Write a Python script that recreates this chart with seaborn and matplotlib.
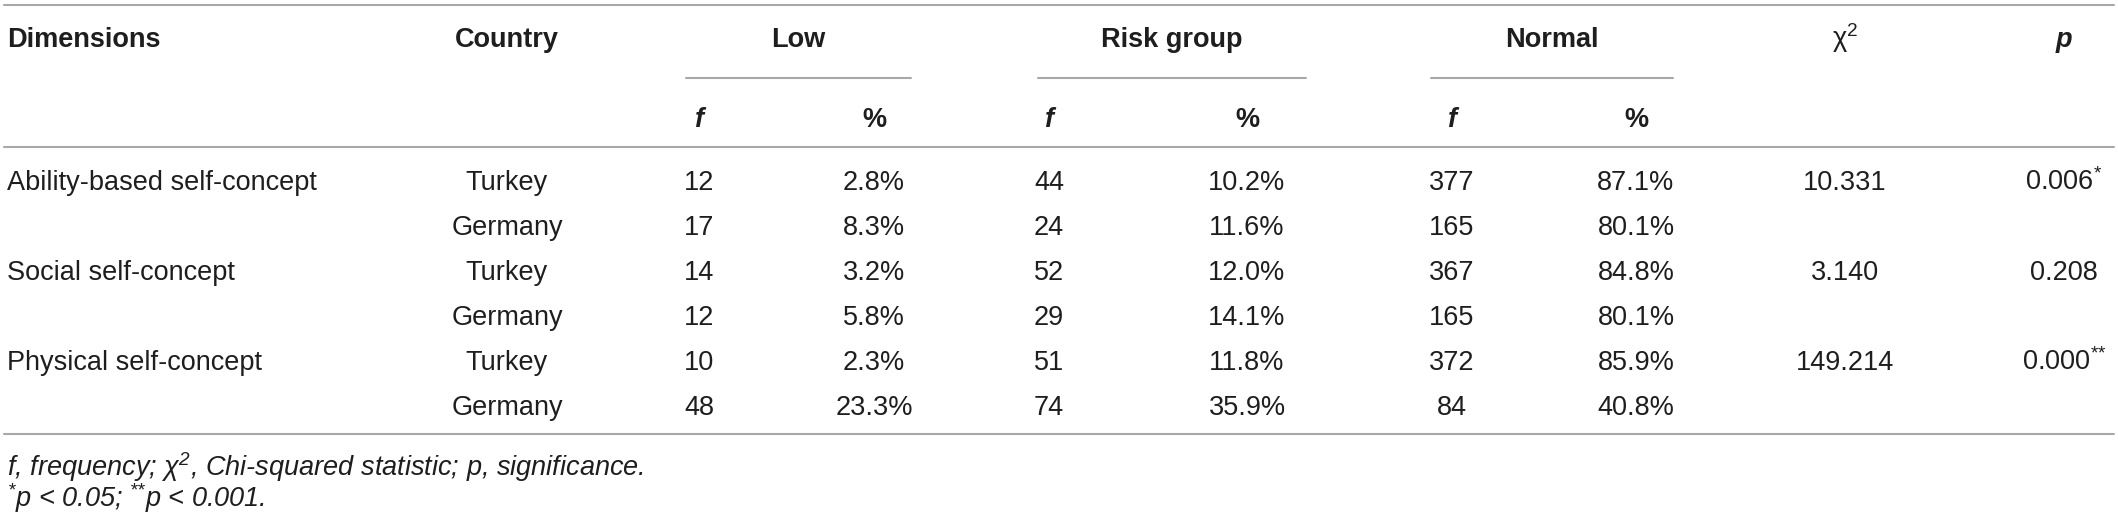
import matplotlib
matplotlib.use("Agg")
import matplotlib.pyplot as plt
import seaborn as sns
import pandas as pd

# table values
dimensions = ["Ability-based self-concept", "Social self-concept", "Physical self-concept"]
countries = ["Turkey", "Germany", "Turkey", "Germany", "Turkey", "Germany"]
low_f = [12, 17, 14, 12, 10, 48]
low_pct = [2.8, 8.3, 3.2, 5.8, 2.3, 23.3]
risk_f = [44, 24, 52, 29, 51, 74]
risk_pct = [10.2, 11.6, 12.0, 14.1, 11.8, 35.9]
normal_f = [377, 165, 367, 165, 372, 84]
normal_pct = [87.1, 80.1, 84.8, 80.1, 85.9, 40.8]
chi2 = [10.331, 3.140, 149.214]
p_values = [0.006, 0.208, 0.000]
p_stars = ["*", "", "**"]

groups = ["Low", "Risk group", "Normal"]

df = pd.DataFrame({
    "country": countries,
    "low_f": low_f, "low_pct": low_pct,
    "risk_f": risk_f, "risk_pct": risk_pct,
    "normal_f": normal_f, "normal_pct": normal_pct,
})


def sup_stars(stars):
    # each star in its own group so mathtext does not space them as operators
    if not stars:
        return ""
    return "$^{" + "".join("{*}" for _ in stars) + "}$"


sns.set_theme(style="white")
plt.rcParams["font.family"] = ["Liberation Sans", "DejaVu Sans"]
plt.rcParams["mathtext.default"] = "regular"

W, H = 2118, 526
fig = plt.figure(figsize=(W / 100, H / 100), dpi=100)
ax = fig.add_axes([0, 0, 1, 1])
ax.set_xlim(0, W)
ax.set_ylim(H, 0)
ax.axis("off")

TXT = "#1e1e1e"
RULE = "#a8a8a8"
FS = 19.5
LW = 1.5

# column centres
x_dim = 7
x_country = 507
x_f = [699, 1049, 1452]
x_pct = [874, 1247, 1636]
x_chi = 1845
x_p = 2064
group_span = [(686, 911), (1038, 1306), (1431, 1673)]

# rules
ax.plot([4, 2114], [5, 5], color=RULE, lw=LW)
ax.plot([4, 2114], [147, 147], color=RULE, lw=LW)
ax.plot([4, 2114], [434, 434], color=RULE, lw=LW)
for x0, x1 in group_span:
    ax.plot([x0, x1], [78, 78], color=RULE, lw=LW)

# header
hdr = dict(fontsize=FS, fontweight="bold", color=TXT, va="baseline")
ax.text(x_dim, 47, "Dimensions", ha="left", **hdr)
ax.text(x_country, 47, "Country", ha="center", **hdr)
for (x0, x1), g in zip(group_span, groups):
    ax.text((x0 + x1) / 2, 47, g, ha="center", **hdr)
ax.text(x_chi, 47, r"χ$^{2}$", ha="center", fontsize=FS, color=TXT, va="baseline")
ax.text(x_p, 47, "p", ha="center", style="italic", **hdr)
for xf, xp in zip(x_f, x_pct):
    ax.text(xf, 127, "f", ha="center", style="italic", **hdr)
    ax.text(xp, 127, "%", ha="center", **hdr)

# body
body = dict(fontsize=FS, color=TXT, va="baseline")
row_y = [190 + 45 * i for i in range(len(df))]
for i, row in df.iterrows():
    y = row_y[i]
    if i % 2 == 0:
        k = i // 2
        ax.text(x_dim, y, dimensions[k], ha="left", **body)
        ax.text(x_chi, y, f"{chi2[k]:.3f}", ha="center", **body)
        ax.text(x_p, y, f"{p_values[k]:.3f}" + sup_stars(p_stars[k]), ha="center", **body)
    ax.text(x_country, y, row["country"], ha="center", **body)
    for xf, xp, col in zip(x_f, x_pct, ["low", "risk", "normal"]):
        ax.text(xf, y, f"{row[col + '_f']}", ha="center", **body)
        ax.text(xp, y, f"{row[col + '_pct']:.1f}%", ha="center", **body)

# footnotes
note = dict(fontsize=FS, color=TXT, va="baseline", ha="left", style="italic")
ax.text(x_dim, 476, r"f, frequency; χ$^{2}$, Chi-squared statistic; p, significance.", **note)
ax.text(x_dim, 507, sup_stars("*") + "p < 0.05; " + sup_stars("**") + "p < 0.001.", **note)

fig.savefig("out.png", dpi=100, facecolor="white")
